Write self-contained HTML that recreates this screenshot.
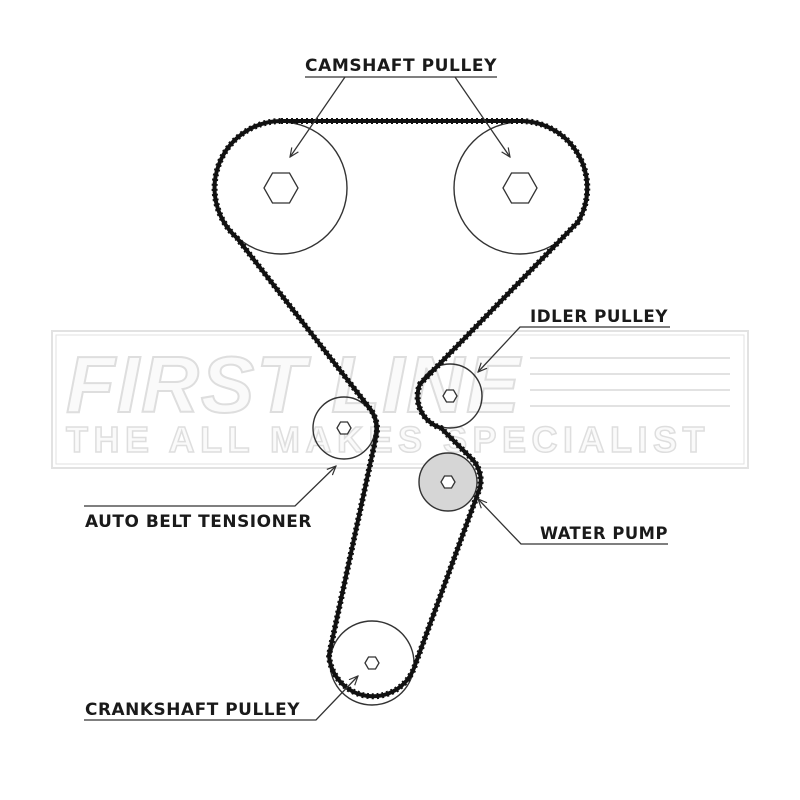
<!DOCTYPE html>
<html><head><style>
html,body{margin:0;padding:0;background:#fff;}
svg{display:block;}
.lbl{font-family:"DejaVu Sans Condensed","DejaVu Sans","Liberation Sans",sans-serif;font-weight:bold;font-size:17px;fill:#1a1a1a;letter-spacing:0.5px;}
</style></head><body>
<svg width="800" height="800" viewBox="0 0 800 800" xmlns="http://www.w3.org/2000/svg">
<defs>
<marker id="ah" markerWidth="10" markerHeight="10" refX="9" refY="5" orient="auto" markerUnits="userSpaceOnUse">
<path d="M0,1 L9,5 L0,9" fill="none" stroke="#333" stroke-width="1.2"/>
</marker>
</defs>
<rect width="800" height="800" fill="#fff"/>

<g fill="none" stroke="#e2e2e2" stroke-width="2">
<rect x="52" y="331" width="696" height="137"/>
<rect x="56" y="335" width="688" height="129" stroke-width="1"/>
<line x1="530" y1="358" x2="730" y2="358"/>
<line x1="530" y1="374" x2="730" y2="374"/>
<line x1="530" y1="390" x2="730" y2="390"/>
<line x1="530" y1="406" x2="730" y2="406"/>
</g>
<text x="66" y="412" font-family="Liberation Sans,sans-serif" font-weight="bold" font-style="italic" font-size="80" fill="#fafafa" stroke="#dedede" stroke-width="2" letter-spacing="2">FIRST LINE</text>
<text x="66" y="452" font-family="Liberation Sans,sans-serif" font-weight="bold" font-size="36" fill="#fafafa" stroke="#dedede" stroke-width="1.5" letter-spacing="5.5">THE ALL MAKES SPECIALIST</text>

<g fill="none" stroke="#333" stroke-width="1.4">
<circle cx="281" cy="188" r="66"/>
<circle cx="520" cy="188" r="66"/>
<circle cx="450" cy="396" r="32"/>
<circle cx="344" cy="428" r="31"/>
<circle cx="448" cy="482" r="29" fill="#d6d6d6"/>
<circle cx="372" cy="663" r="42"/>
</g>
<g fill="#fff" stroke="#333" stroke-width="1.3">
<polygon points="264,188 272.5,173 289.5,173 298,188 289.5,203 272.5,203"/>
<polygon points="503,188 511.5,173 528.5,173 537,188 528.5,203 511.5,203"/>
<polygon points="443,396 446.5,390 453.5,390 457,396 453.5,402 446.5,402"/>
<polygon points="337,428 340.5,422 347.5,422 351,428 347.5,434 340.5,434"/>
<polygon points="441,482 444.5,476 451.5,476 455,482 451.5,488 444.5,488"/>
<polygon points="365,663 368.5,657 375.5,657 379,663 375.5,669 368.5,669"/>
</g>

<g fill="none" stroke="#111" stroke-linejoin="round">
<path d="M281,121 L520,121 A67,67 0 0 1 578,222 L420,384 A33,33 0 0 0 441,428 L470,457 A31,31 0 0 1 478,493 L414,668 A44,44 0 0 1 329,655 L376,437 A33,33 0 0 0 371,410 L237,238 A67,67 0 0 1 281,121 Z" stroke-width="4"/>
<path d="M281,121 L520,121 A67,67 0 0 1 578,222 L420,384 A33,33 0 0 0 441,428 L470,457 A31,31 0 0 1 478,493 L414,668 A44,44 0 0 1 329,655 L376,437 A33,33 0 0 0 371,410 L237,238 A67,67 0 0 1 281,121 Z" stroke-width="6" stroke-dasharray="2 3"/>
</g>

<g fill="none" stroke="#333" stroke-width="1.3">
<line x1="305" y1="77" x2="497" y2="77"/>
<line x1="345" y1="77" x2="290" y2="157" marker-end="url(#ah)"/>
<line x1="455" y1="77" x2="510" y2="157" marker-end="url(#ah)"/>
<polyline points="670,327 520,327 478,372" marker-end="url(#ah)"/>
<polyline points="84,506 295,506 336,466" marker-end="url(#ah)"/>
<polyline points="668,544 521,544 478,499" marker-end="url(#ah)"/>
<polyline points="84,720 316,720 358,676" marker-end="url(#ah)"/>
</g>
<text class="lbl" x="305" y="71" textLength="192" lengthAdjust="spacingAndGlyphs">CAMSHAFT PULLEY</text>
<text class="lbl" x="530" y="322" textLength="138" lengthAdjust="spacingAndGlyphs">IDLER PULLEY</text>
<text class="lbl" x="85" y="527" textLength="227" lengthAdjust="spacingAndGlyphs">AUTO BELT TENSIONER</text>
<text class="lbl" x="540" y="539" textLength="128" lengthAdjust="spacingAndGlyphs">WATER PUMP</text>
<text class="lbl" x="85" y="715" textLength="215" lengthAdjust="spacingAndGlyphs">CRANKSHAFT PULLEY</text>
</svg>
</body></html>
